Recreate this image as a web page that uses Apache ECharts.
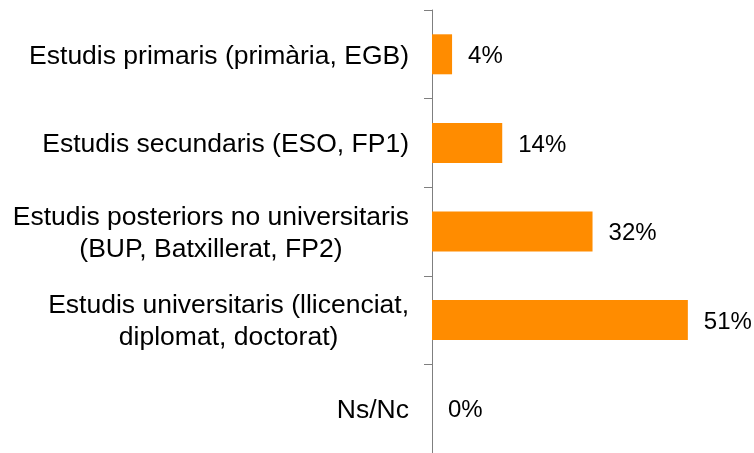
<!DOCTYPE html>
<html>
<head>
<meta charset="utf-8">
<title>Estudis</title>
<script src="https://cdn.jsdelivr.net/npm/echarts@6/dist/echarts.min.js"></script>
<style>
	html, body { margin: 0; padding: 0; background: #fff; }
	#chart { width: 754px; height: 453px; }
</style>
</head>
<body>
<div id="chart"></div>
<script>
	// categories from top to bottom
	var categories = [
		'Estudis primaris (primària, EGB)',
		'Estudis secundaris (ESO, FP1)',
		'Estudis posteriors no universitaris\n(BUP, Batxillerat, FP2)',
		'Estudis universitaris (llicenciat,\ndiplomat, doctorat)',
		'Ns/Nc'
	];
	var values = [4, 14, 32, 51, 0];

	var mychart = echarts.init(document.getElementById('chart'));

	var option = {
		animation: false,
		grid: {
			left: 432,
			top: 10,
			width: 301,
			height: 445
		},
		xAxis: {
			type: 'value',
			min: 0,
			max: 60,
			show: false
		},
		yAxis: {
			type: 'category',
			inverse: true,
			data: categories,
			axisLine: {
				show: true,
				lineStyle: { color: '#7f7f7f', width: 1 }
			},
			axisTick: {
				show: true,
				length: 8,
				lineStyle: { color: '#7f7f7f', width: 1 }
			},
			axisLabel: {
				margin: 23,
				align: 'right',
				color: '#000',
				fontFamily: 'Liberation Sans, Arial, sans-serif',
				fontSize: 26.5,
				lineHeight: 32,
				padding: [4, 0, 0, 0],
				// each line centred inside the label block
				formatter: function(val) {
					return val.split('\n').map(function(s) {
						return '{c|' + s + '}';
					}).join('\n');
				},
				rich: {
					c: {
						align: 'center',
						color: '#000',
						fontFamily: 'Liberation Sans, Arial, sans-serif',
						fontSize: 26.5,
						lineHeight: 32
					}
				}
			}
		},
		series: [{
			type: 'bar',
			data: values,
			barWidth: 40,
			itemStyle: { color: '#ff8c00' },
			label: {
				show: true,
				position: 'right',
				distance: 16,
				offset: [0, 2],
				color: '#000',
				fontFamily: 'Liberation Sans, Arial, sans-serif',
				fontSize: 24,
				formatter: '{c}%'
			}
		}]
	};

	mychart.setOption(option);
</script>
</body>
</html>
